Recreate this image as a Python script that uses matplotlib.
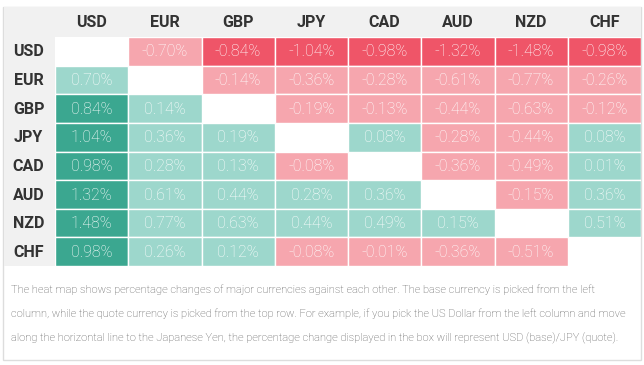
import matplotlib
matplotlib.use('Agg')
import matplotlib.pyplot as plt
from matplotlib.patches import Rectangle

# currencies (rows = base, cols = quote)
currencies = ["USD", "EUR", "GBP", "JPY", "CAD", "AUD", "NZD", "CHF"]

# percentage changes, None on the diagonal
usd = [None, -0.70, -0.84, -1.04, -0.98, -1.32, -1.48, -0.98]
eur = [0.70, None, -0.14, -0.36, -0.28, -0.61, -0.77, -0.26]
gbp = [0.84, 0.14, None, -0.19, -0.13, -0.44, -0.63, -0.12]
jpy = [1.04, 0.36, 0.19, None, 0.08, -0.28, -0.44, 0.08]
cad = [0.98, 0.28, 0.13, -0.08, None, -0.36, -0.49, 0.01]
aud = [1.32, 0.61, 0.44, 0.28, 0.36, None, -0.15, 0.36]
nzd = [1.48, 0.77, 0.63, 0.44, 0.49, 0.15, None, 0.51]
chf = [0.98, 0.26, 0.12, -0.08, -0.01, -0.36, -0.51, None]
rows = [usd, eur, gbp, jpy, cad, aud, nzd, chf]

caption_lines = [
    "The heat map shows percentage changes of major currencies against each other. The base currency is picked from the left",
    "column, while the quote currency is picked from the top row. For example, if you pick the US Dollar from the left column and move",
    "along the horizontal line to the Japanese Yen, the percentage change displayed in the box will represent USD (base)/JPY (quote).",
]

STRONG_GREEN = '#3ba790'
LIGHT_GREEN = '#9dd7cc'
STRONG_RED = '#ef5568'
LIGHT_RED = '#f6a6ae'
HEAD_BG = '#f1f1f1'

def cell_color(v):
    if v >= 0:
        return STRONG_GREEN if v >= 0.8 else LIGHT_GREEN
    return STRONG_RED if v <= -0.8 else LIGHT_RED

W, H = 644, 365
fig = plt.figure(figsize=(W / 100, H / 100), dpi=100)
fig.patch.set_facecolor('white')

# pixel helpers
def fx(px):
    return px / W
def fy(py):
    return 1 - py / H

# outer frame
bg = fig.add_axes([0, 0, 1, 1])
bg.set_xlim(0, W)
bg.set_ylim(H, 0)
bg.axis('off')
bg.add_patch(Rectangle((3.5, 7), 637.5, 353, facecolor='white', edgecolor='#dddddd', lw=1))
bg.add_patch(Rectangle((4, 7), 637, 30, facecolor=HEAD_BG, edgecolor='none'))
bg.add_patch(Rectangle((4, 37), 51, 229, facecolor=HEAD_BG, edgecolor='none'))

# grid area
x0, x1, y0, y1 = 55, 641, 37, 266
ax = fig.add_axes([fx(x0), fy(y1), fx(x1) - fx(x0), fy(y0) - fy(y1)])
ax.set_xlim(0, 8)
ax.set_ylim(8, 0)
ax.axis('off')

for i, row in enumerate(rows):
    for j, v in enumerate(row):
        if v is None:
            continue
        ax.add_patch(Rectangle((j, i), 1, 1, facecolor=cell_color(v),
                               edgecolor='white', lw=1))
        ax.text(j + 0.5, i + 0.52, f"{v:.2f}%", ha='center', va='center',
                color='white', fontsize=11.5, family='Roboto', fontweight='light')

# headers
for k, c in enumerate(currencies):
    ax.text(k + 0.5, -0.5, c, ha='center', va='center', color='#333333',
            fontsize=11.5, family='Roboto', fontweight='bold', clip_on=False)
    ax.text(-0.36, k + 0.52, c, ha='center', va='center', color='#333333',
            fontsize=11.5, family='Roboto', fontweight='bold', clip_on=False)

# caption below the table
for n, line in enumerate(caption_lines):
    bg.text(11, 290 + 24 * n, line, ha='left', va='center', color='#555555',
            fontsize=8, family='Roboto', fontweight='light')

plt.savefig("out.png", dpi=100)
